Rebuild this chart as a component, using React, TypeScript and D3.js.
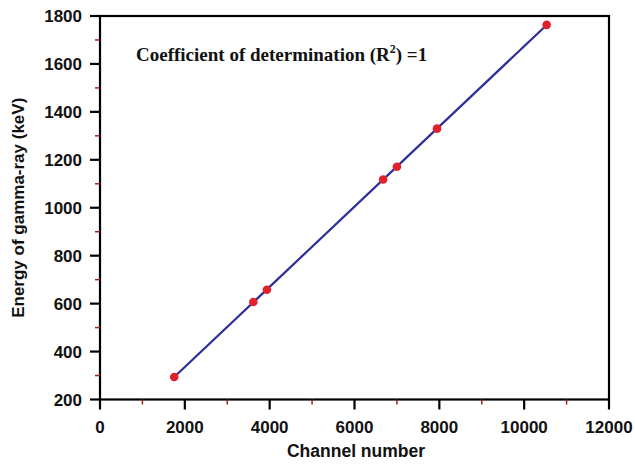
import React from "react";
import * as d3 from "d3";

const channels = [1750, 3615, 3935, 6675, 7000, 7945, 10530];
const energies = [294, 607, 658, 1118, 1171, 1330, 1763];
const xTicks = [0, 2000, 4000, 6000, 8000, 10000, 12000];
const yTicks = [200, 400, 600, 800, 1000, 1200, 1400, 1600, 1800];
const xMinor = [1000, 3000, 5000, 7000, 9000, 11000];
const yMinor = [300, 500, 700, 900, 1100, 1300, 1500, 1700];

export default function App() {
  const W = 635, H = 464;
  const L = 100, R = 609, T = 16, B = 399.5;
  const x = d3.scaleLinear().domain([0, 12000]).range([L, R]);
  const y = d3.scaleLinear().domain([200, 1800]).range([B, T]);
  const n = channels.length;
  const mx = d3.mean(channels)!, my = d3.mean(energies)!;
  let sxy = 0, sxx = 0;
  for (let i = 0; i < n; i++) { sxy += (channels[i] - mx) * (energies[i] - my); sxx += (channels[i] - mx) ** 2; }
  const a = sxy / sxx, b = my - a * mx;
  const x0 = d3.min(channels)!, x1 = d3.max(channels)!;
  const line = d3.line<number>().x(d => x(d)).y(d => y(a * d + b));
  const font = "'Liberation Sans', Arial, sans-serif";
  return (
    <svg width={W} height={H} style={{ position: "absolute", left: 0, top: 0 }}>
      <rect x={0} y={0} width={W} height={H} fill="#fff" />
      <rect x={L} y={T} width={R - L} height={B - T} fill="none" stroke="#000" strokeWidth={2.2} />
      {xTicks.map(t => (
        <g key={"xt" + t}>
          <line x1={x(t)} x2={x(t)} y1={B} y2={B + 10} stroke="#000" strokeWidth={2.2} />
          <text x={x(t)} y={B + 33.5} textAnchor="middle" fontFamily={font} fontWeight="bold" fontSize={17} fill="#111">{t}</text>
        </g>
      ))}
      {xMinor.map(t => (
        <line key={"xm" + t} x1={x(t)} x2={x(t)} y1={B} y2={B + 5} stroke="#a02020" strokeWidth={1.5} />
      ))}
      {yTicks.map(t => (
        <g key={"yt" + t}>
          <line x1={L - 10} x2={L} y1={y(t)} y2={y(t)} stroke="#000" strokeWidth={2.2} />
          <text x={L - 18} y={y(t) + 6} textAnchor="end" fontFamily={font} fontWeight="bold" fontSize={17} fill="#111">{t}</text>
        </g>
      ))}
      {yMinor.map(t => (
        <line key={"ym" + t} x1={L - 5} x2={L} y1={y(t)} y2={y(t)} stroke="#a02020" strokeWidth={1.5} />
      ))}
      <path d={line([x0, x1]) || ""} fill="none" stroke="#2e2e9a" strokeWidth={2.2} />
      {channels.map((c, i) => (
        <circle key={i} cx={x(c)} cy={y(energies[i])} r={4.3} fill="#e0202a" />
      ))}
      <text x={356} y={457} textAnchor="middle" fontFamily={font} fontWeight="bold" fontSize={17.5} fill="#111">Channel number</text>
      <text transform={`translate(24,${(T + B) / 2}) rotate(-90)`} textAnchor="middle" fontFamily={font} fontWeight="bold" fontSize={17} fill="#111">Energy of gamma-ray (keV)</text>
      <text x={136} y={61} fontFamily="'Liberation Serif', 'Times New Roman', serif" fontWeight="bold" fontSize={19} fill="#111">
        Coefficient of determination (R<tspan dy={-8} fontSize={12}>2</tspan><tspan dy={8}>) =1</tspan>
      </text>
    </svg>
  );
}
